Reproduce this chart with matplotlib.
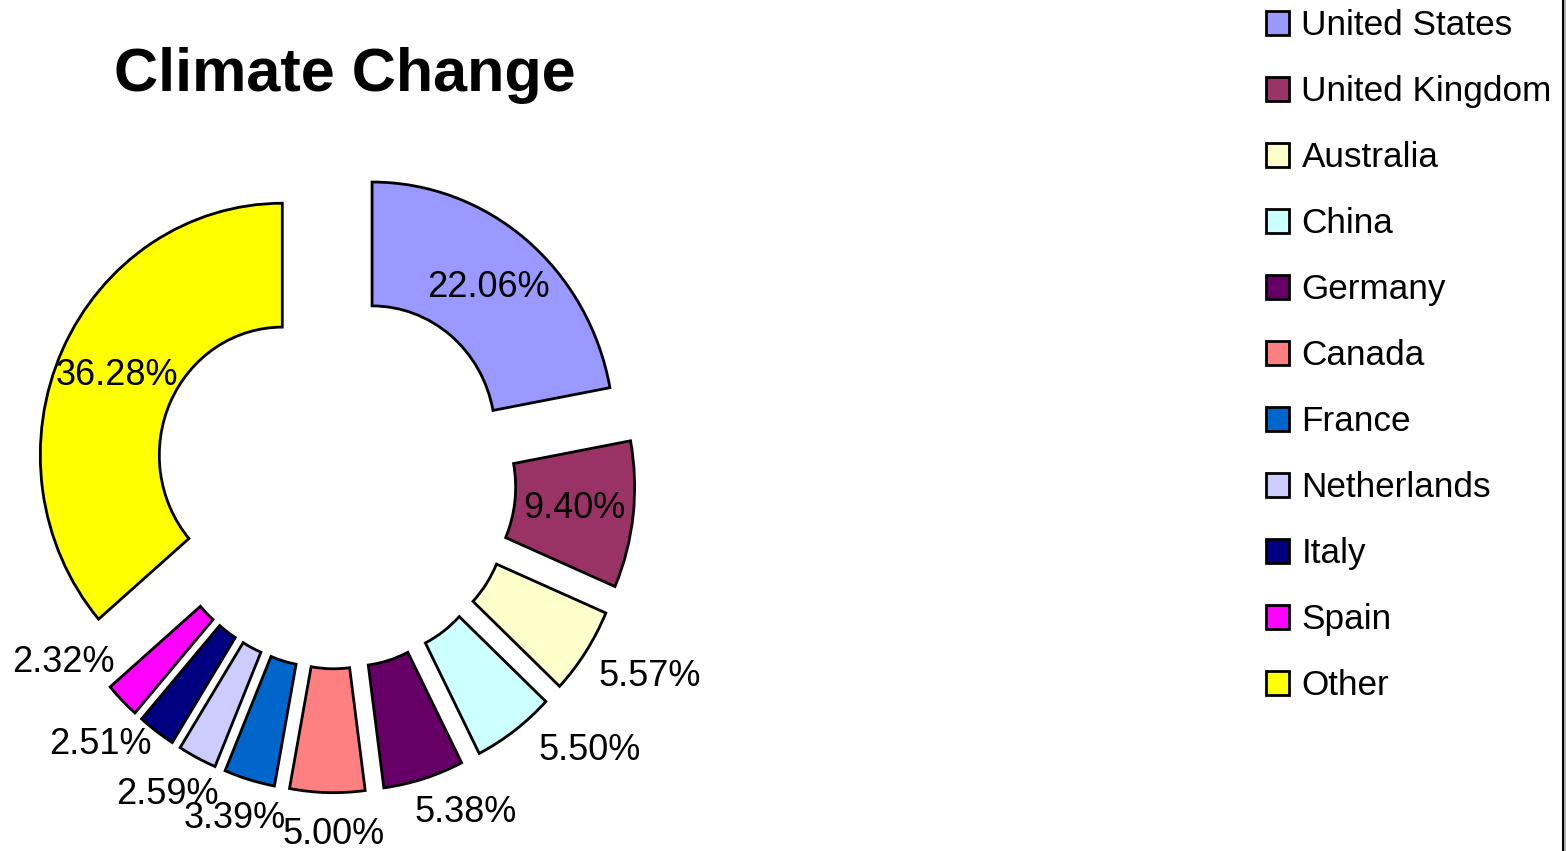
import matplotlib
matplotlib.use('Agg')
import matplotlib.pyplot as plt
from matplotlib.lines import Line2D
from matplotlib.patches import Rectangle

plt.rcParams['font.family'] = ['Liberation Sans', 'DejaVu Sans']

countries = ['United States', 'United Kingdom', 'Australia', 'China', 'Germany',
             'Canada', 'France', 'Netherlands', 'Italy', 'Spain', 'Other']
shares = [22.06, 9.40, 5.57, 5.50, 5.38, 5.00, 3.39, 2.59, 2.51, 2.32, 36.28]
colors = ['#9999FF', '#993366', '#FFFFCC', '#CCFFFF', '#660066', '#FF8080',
          '#0066CC', '#CCCCFF', '#000080', '#FF00FF', '#FFFF00']

# labels that Excel pushed outside the ring (pixel positions of the text centre)
outside_pos = {2: (650, 677), 3: (590, 750), 4: (466, 812), 5: (334, 834),
               6: (235, 818), 7: (167, 794), 8: (100, 745), 9: (63, 663)}

W, H = 1566, 851
stretch = 1.041  # the original chart is slightly taller than wide
pct_size = 26

fig = plt.figure(figsize=(W / 100, H / 100), dpi=100)
ax = fig.add_axes([0, 0, 1, 1])

wedges, texts, autotexts = ax.pie(
    shares, colors=colors, startangle=90, counterclock=False,
    center=(335, 356), radius=242, explode=[58] * len(shares),
    autopct='%.2f%%', pctdistance=0.754,
    wedgeprops=dict(width=119, edgecolor='black', linewidth=2),
    textprops=dict(fontsize=pct_size, color='black'))

ax.set_aspect('auto')
ax.set_xlim(0, W)
ax.set_ylim(0, H / stretch)
ax.axis('off')

for i, t in enumerate(autotexts):
    if i in outside_pos:
        px, py = outside_pos[i]
        t.set_visible(False)
        fig.text(px / W, 1 - py / H, t.get_text(), fontsize=pct_size,
                 ha='center', va='center')

fig.text(345 / W, 1 - 76 / H, 'Climate Change', fontsize=44,
         fontweight='bold', ha='center', va='center')

leg = fig.legend(wedges, countries, loc='upper left',
                 bbox_to_anchor=(1266 / W, 1 - 9 / H), frameon=False,
                 fontsize=25.3, borderpad=0, borderaxespad=0,
                 labelspacing=0.94, handlelength=0.66, handleheight=0.66,
                 handletextpad=0.35)

# right border of the chart area
fig.add_artist(Line2D([1563 / W, 1563 / W], [0, 1], color='black',
                      linewidth=1.5, transform=fig.transFigure))
fig.add_artist(Rectangle((1564 / W, 0), 2 / W, 1, color='#b0b0b0',
                         transform=fig.transFigure))

fig.savefig('out.png', dpi=100)
